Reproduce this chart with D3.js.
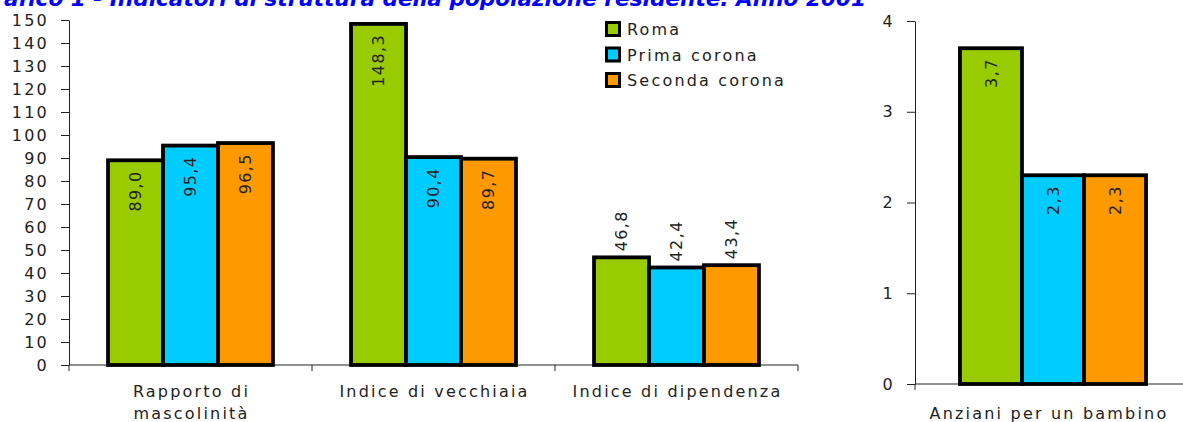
<!DOCTYPE html>
<html>
<head>
<meta charset="utf-8">
<script src="https://cdn.jsdelivr.net/npm/d3@7"></script>
<style>
  body { margin: 0; background: #fff; }
  svg { display: block; }
  text { font-family: "DejaVu Sans", Verdana, sans-serif; fill: #222; }
</style>
</head>
<body>
<div id="chart"></div>
<script>
const titleText = "Grafico 1 - Indicatori di struttura della popolazione residente. Anno 2001";
const categories = ["Rapporto di mascolinità", "Indice di vecchiaia", "Indice di dipendenza"];
const categoryLines = [["Rapporto di", "mascolinità"], ["Indice di vecchiaia"], ["Indice di dipendenza"]];
const labelPlacement = ["inside", "inside", "outside"];
const series = ["Roma", "Prima corona", "Seconda corona"];
const roma = [89.0, 148.3, 46.8];
const primaCorona = [95.4, 90.4, 42.4];
const secondaCorona = [96.5, 89.7, 43.4];
const leftTicks = [0, 10, 20, 30, 40, 50, 60, 70, 80, 90, 100, 110, 120, 130, 140, 150];

const rightCategory = "Anziani per un bambino";
const anzianiValues = [3.7, 2.3, 2.3];
const rightTicks = [0, 1, 2, 3, 4];

const colors = ["#99cc00", "#00ccff", "#ff9900"];
const W = 1183, H = 422;
const fmt = d3.formatLocale({ decimal: ",", thousands: ".", grouping: [3], currency: ["", " €"] }).format(".1f");

const FS = "16px", LS = "2.2px";      // testo assi / categorie
const VFS = "16px", VLS = "1.4px";    // etichette valori

const svg = d3.select("#chart").append("svg")
  .attr("width", W).attr("height", H);

// titolo (tagliato in alto come nell'originale)
svg.append("text")
  .attr("x", 866).attr("y", 6)
  .attr("text-anchor", "end")
  .style("fill", "#0000ff")
  .style("font-weight", "bold")
  .style("font-style", "italic")
  .style("font-size", "21.6px")
  .text(titleText);

// --- grafico di sinistra
const x = d3.scaleBand().domain(categories).range([69, 798]);
const xs = d3.scaleBand().domain(series).range([0, x.bandwidth()]).paddingOuter(0.71);
const y = d3.scaleLinear().domain([0, 150]).range([365, 20]);

const rows = [];
categories.forEach((c, i) => {
  [roma, primaCorona, secondaCorona].forEach((vals, s) => {
    rows.push({ cat: c, ci: i, s, name: series[s], v: vals[i] });
  });
});

function styleAxis(g) {
  g.select(".domain").attr("stroke", "#222");
  g.selectAll(".tick line").attr("stroke", "#222");
  g.selectAll("text")
    .style("font-size", FS).style("letter-spacing", LS)
    .attr("dx", "0px").style("fill", "#222");
}

svg.append("g")
  .attr("transform", `translate(${x.range()[0]},0)`)
  .call(d3.axisLeft(y).tickValues(leftTicks).tickSize(8).tickSizeOuter(0).tickPadding(12))
  .call(styleAxis);

// asse x
svg.append("line")
  .attr("x1", x.range()[0]).attr("x2", x.range()[1])
  .attr("y1", y(0)).attr("y2", y(0))
  .attr("stroke", "#222");
const bounds = categories.map(c => x(c)).concat([x.range()[1]]);
svg.selectAll("line.xtick").data(bounds).enter().append("line")
  .attr("class", "xtick")
  .attr("x1", d => d).attr("x2", d => d)
  .attr("y1", y(0)).attr("y2", y(0) + 6)
  .attr("stroke", "#222");

svg.append("g").selectAll("rect").data(rows).enter().append("rect")
  .attr("x", d => x(d.cat) + xs(d.name))
  .attr("y", d => y(d.v))
  .attr("width", xs.bandwidth())
  .attr("height", d => y(0) - y(d.v))
  .attr("fill", d => colors[d.s])
  .attr("stroke", "#000")
  .attr("stroke-width", 3.8);

svg.append("g").selectAll("text").data(rows).enter().append("text")
  .attr("transform", d => {
    const cx = x(d.cat) + xs(d.name) + xs.bandwidth() / 2;
    const ty = labelPlacement[d.ci] === "inside" ? y(d.v) + 10 : y(d.v) - 6;
    return `translate(${cx},${ty}) rotate(-90)`;
  })
  .attr("text-anchor", d => labelPlacement[d.ci] === "inside" ? "end" : "start")
  .attr("dy", "0.36em")
  .style("font-size", VFS)
  .style("letter-spacing", VLS)
  .text(d => fmt(d.v));

// etichette categorie
categories.forEach((c, i) => {
  const t = svg.append("text")
    .attr("y", 397)
    .attr("text-anchor", "middle")
    .style("font-size", FS)
    .style("letter-spacing", LS);
  categoryLines[i].forEach((line, k) => {
    t.append("tspan")
      .attr("x", x(c) + x.bandwidth() / 2 + 1)
      .attr("dy", k === 0 ? 0 : 22)
      .text(line);
  });
});

// legenda
const leg = svg.append("g").attr("transform", "translate(605,29)");
series.forEach((s, i) => {
  const g = leg.append("g").attr("transform", `translate(0,${i * 25.5})`);
  g.append("rect")
    .attr("x", 1.5).attr("y", -6.5)
    .attr("width", 13).attr("height", 13)
    .attr("fill", colors[i]).attr("stroke", "#000").attr("stroke-width", 3);
  g.append("text")
    .attr("x", 22).attr("y", 6)
    .style("font-size", FS).style("letter-spacing", LS)
    .text(s);
});

// --- grafico di destra
const xR = d3.scaleBand().domain([rightCategory]).range([915, 1191]);
const xRs = d3.scaleBand().domain(series).range([0, xR.bandwidth()]).paddingOuter(0.725);
const yR = d3.scaleLinear().domain([0, 4]).range([384, 21]);

svg.append("g")
  .attr("transform", `translate(${xR.range()[0]},0)`)
  .call(d3.axisLeft(yR).tickValues(rightTicks).tickFormat(d3.format("d")).tickSize(8).tickSizeOuter(0).tickPadding(12))
  .call(styleAxis);

svg.append("line")
  .attr("x1", xR.range()[0]).attr("x2", W)
  .attr("y1", yR(0)).attr("y2", yR(0))
  .attr("stroke", "#222");
svg.append("line")
  .attr("x1", xR.range()[0]).attr("x2", xR.range()[0])
  .attr("y1", yR(0)).attr("y2", yR(0) + 6)
  .attr("stroke", "#222");

const rowsR = series.map((s, i) => ({ name: s, s: i, v: anzianiValues[i] }));
svg.append("g").selectAll("rect").data(rowsR).enter().append("rect")
  .attr("x", d => xR(rightCategory) + xRs(d.name))
  .attr("y", d => yR(d.v))
  .attr("width", xRs.bandwidth())
  .attr("height", d => yR(0) - yR(d.v))
  .attr("fill", d => colors[d.s])
  .attr("stroke", "#000")
  .attr("stroke-width", 3.8);

svg.append("g").selectAll("text").data(rowsR).enter().append("text")
  .attr("transform", d => {
    const cx = xR(rightCategory) + xRs(d.name) + xRs.bandwidth() / 2;
    return `translate(${cx},${yR(d.v) + 10}) rotate(-90)`;
  })
  .attr("text-anchor", "end")
  .attr("dy", "0.36em")
  .style("font-size", VFS)
  .style("letter-spacing", VLS)
  .text(d => fmt(d.v));

svg.append("text")
  .attr("x", xR(rightCategory) + xR.bandwidth() / 2 - 4)
  .attr("y", 419)
  .attr("text-anchor", "middle")
  .style("font-size", FS)
  .style("letter-spacing", LS)
  .text(rightCategory);
</script>
</body>
</html>
